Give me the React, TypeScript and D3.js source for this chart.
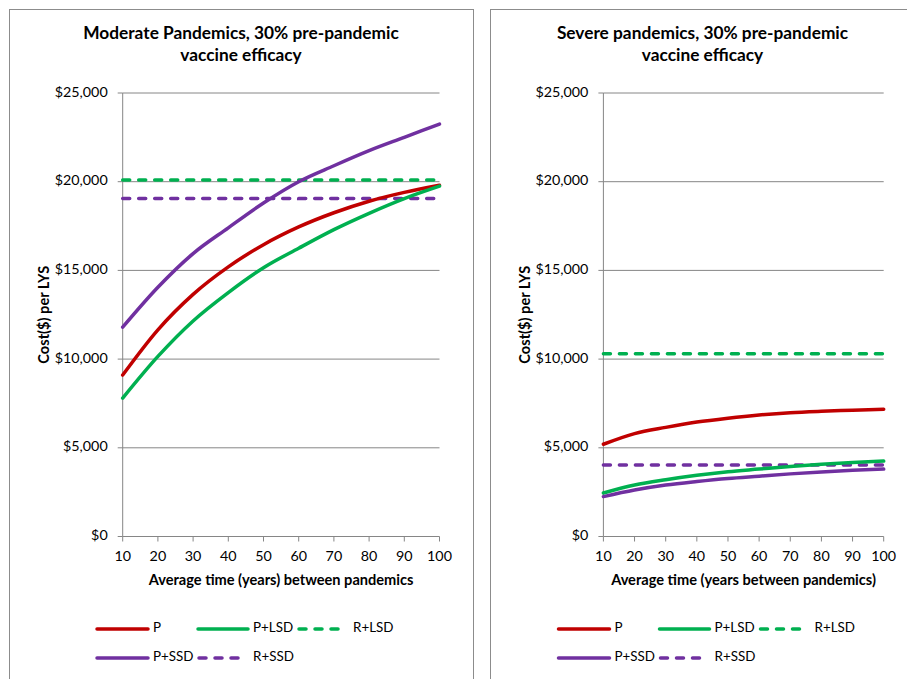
import React from "react";
import * as d3 from "d3";

const years = [10, 20, 30, 40, 50, 60, 70, 80, 90, 100];
const yTicks = [0, 5000, 10000, 15000, 20000, 25000];

// Moderate pandemics
const modP = [9100, 11650, 13650, 15200, 16450, 17450, 18250, 18900, 19400, 19800];
const modPLSD = [7800, 10150, 12150, 13750, 15150, 16250, 17300, 18220, 19050, 19750];
const modPSSD = [11800, 14050, 15950, 17400, 18800, 20000, 20900, 21750, 22500, 23250];
const modRLSD = 20100;
const modRSSD = 19050;

// Severe pandemics
const sevP = [5200, 5800, 6150, 6450, 6670, 6850, 6980, 7060, 7120, 7180];
const sevPLSD = [2450, 2900, 3200, 3450, 3650, 3800, 3950, 4070, 4170, 4250];
const sevPSSD = [2250, 2620, 2900, 3100, 3270, 3400, 3530, 3640, 3730, 3800];
const sevRLSD = 10300;
const sevRSSD = 4030;

const RED = "#C00000";
const GREEN = "#00B050";
const PURPLE = "#7030A0";
const GRID = "#868686";
const FONT = "Lato, 'Open Sans', sans-serif";
const FS = 14.3;
const LFS = 13.4;

type PanelProps = {
  px: number;
  pw: number;
  x0: number;
  x1: number;
  title: string[];
  xLabel: string;
  p: number[];
  plsd: number[];
  pssd: number[];
  rlsd: number;
  rssd: number;
};

function Panel({ px, pw, x0, x1, title, xLabel, p, plsd, pssd, rlsd, rssd }: PanelProps) {
  const x = d3.scaleLinear().domain([10, 100]).range([x0, x1]);
  const y = d3.scaleLinear().domain([0, 25000]).range([536.5, 93]);
  const line = d3
    .line<number>()
    .x((_, i) => x(years[i]))
    .y((d) => y(d))
    .curve(d3.curveMonotoneX);
  const flat = (v: number) => line(years.map(() => v)) || "";
  const cx = px + pw / 2;
  const dash = "7,9";
  const lw = 3.5;
  return (
    <g>
      <rect x={px + 0.5} y={9.5} width={pw} height={720} fill="#fff" stroke="#8c8c8c" strokeWidth={1} />
      {title.map((t, i) => (
        <text key={i} x={cx} y={35 + i * 22} textAnchor="middle" dominantBaseline="middle" fontWeight="bold" fontSize={17.3} fontFamily={FONT}>
          {t}
        </text>
      ))}
      {yTicks.map((t) => (
        <g key={t}>
          {t > 0 && <line x1={x0} x2={x1} y1={y(t)} y2={y(t)} stroke={GRID} strokeWidth={1} />}
          <line x1={x0 - 5} x2={x0} y1={y(t)} y2={y(t)} stroke={GRID} strokeWidth={1} />
          <text x={x0 - 15} y={y(t)} textAnchor="end" dominantBaseline="middle" fontSize={FS} fontFamily={FONT}>
            {d3.format("$,")(t)}
          </text>
        </g>
      ))}
      <line x1={x0} x2={x0} y1={y(25000)} y2={y(0)} stroke={GRID} strokeWidth={1} />
      <line x1={x0} x2={x1} y1={y(0)} y2={y(0)} stroke={GRID} strokeWidth={1} />
      {years.map((t) => (
        <g key={t}>
          <line x1={x(t)} x2={x(t)} y1={y(0)} y2={y(0) + 5} stroke={GRID} strokeWidth={1} />
          <text x={x(t)} y={557} textAnchor="middle" dominantBaseline="middle" fontSize={FS} fontFamily={FONT}>
            {t}
          </text>
        </g>
      ))}
      <text x={(x0 + x1) / 2} y={581} textAnchor="middle" dominantBaseline="middle" fontWeight="bold" fontSize={14.6} fontFamily={FONT}>
        {xLabel}
      </text>
      <text
        transform={`translate(${x0 - 77},${(y(0) + y(25000)) / 2}) rotate(-90)`}
        textAnchor="middle"
        dominantBaseline="middle"
        fontWeight="bold"
        fontSize={14.6}
        fontFamily={FONT}
      >
        Cost($) per LYS
      </text>
      <path d={flat(rlsd)} fill="none" stroke={GREEN} strokeWidth={lw} strokeDasharray={dash} strokeLinecap="round" />
      <path d={flat(rssd)} fill="none" stroke={PURPLE} strokeWidth={lw} strokeDasharray={dash} strokeLinecap="round" />
      <path d={line(p) || ""} fill="none" stroke={RED} strokeWidth={lw} strokeLinecap="round" />
      <path d={line(plsd) || ""} fill="none" stroke={GREEN} strokeWidth={lw} strokeLinecap="round" />
      <path d={line(pssd) || ""} fill="none" stroke={PURPLE} strokeWidth={lw} strokeLinecap="round" />
      {/* legend */}
      {[
        { a: -144, b: -93, lx: -88, ly: 629, c: RED, d: false, t: "P" },
        { a: -43, b: 7, lx: 12, ly: 629, c: GREEN, d: false, t: "P+LSD" },
        { a: 58, b: 101, lx: 112, ly: 629, c: GREEN, d: true, t: "R+LSD" },
        { a: -144, b: -93, lx: -88, ly: 658, c: PURPLE, d: false, t: "P+SSD" },
        { a: -42, b: 1, lx: 12, ly: 658, c: PURPLE, d: true, t: "R+SSD" },
      ].map((it) => (
        <g key={it.t}>
          <line
            x1={cx + it.a}
            x2={cx + it.b}
            y1={it.ly}
            y2={it.ly}
            stroke={it.c}
            strokeWidth={lw}
            strokeLinecap="round"
            strokeDasharray={it.d ? dash : undefined}
          />
          <text x={cx + it.lx} y={it.ly} dominantBaseline="middle" fontSize={LFS} fontFamily={FONT}>
            {it.t}
          </text>
        </g>
      ))}
    </g>
  );
}

export default function App() {
  return (
    <svg width={907} height={679} style={{ position: "absolute", left: 0, top: 0, background: "#fff" }}>
      <rect x={0} y={0} width={907} height={679} fill="#fff" />
      <Panel
        px={9}
        pw={464}
        x0={122.7}
        x1={439.5}
        title={["Moderate Pandemics, 30% pre-pandemic", "vaccine efficacy"]}
        xLabel="Average time (years) between pandemics"
        p={modP}
        plsd={modPLSD}
        pssd={modPSSD}
        rlsd={modRLSD}
        rssd={modRSSD}
      />
      <Panel
        px={490}
        pw={425}
        x0={603.4}
        x1={883.7}
        title={["Severe pandemics, 30% pre-pandemic", "vaccine efficacy"]}
        xLabel="Average time (years between pandemics)"
        p={sevP}
        plsd={sevPLSD}
        pssd={sevPSSD}
        rlsd={sevRLSD}
        rssd={sevRSSD}
      />
    </svg>
  );
}
